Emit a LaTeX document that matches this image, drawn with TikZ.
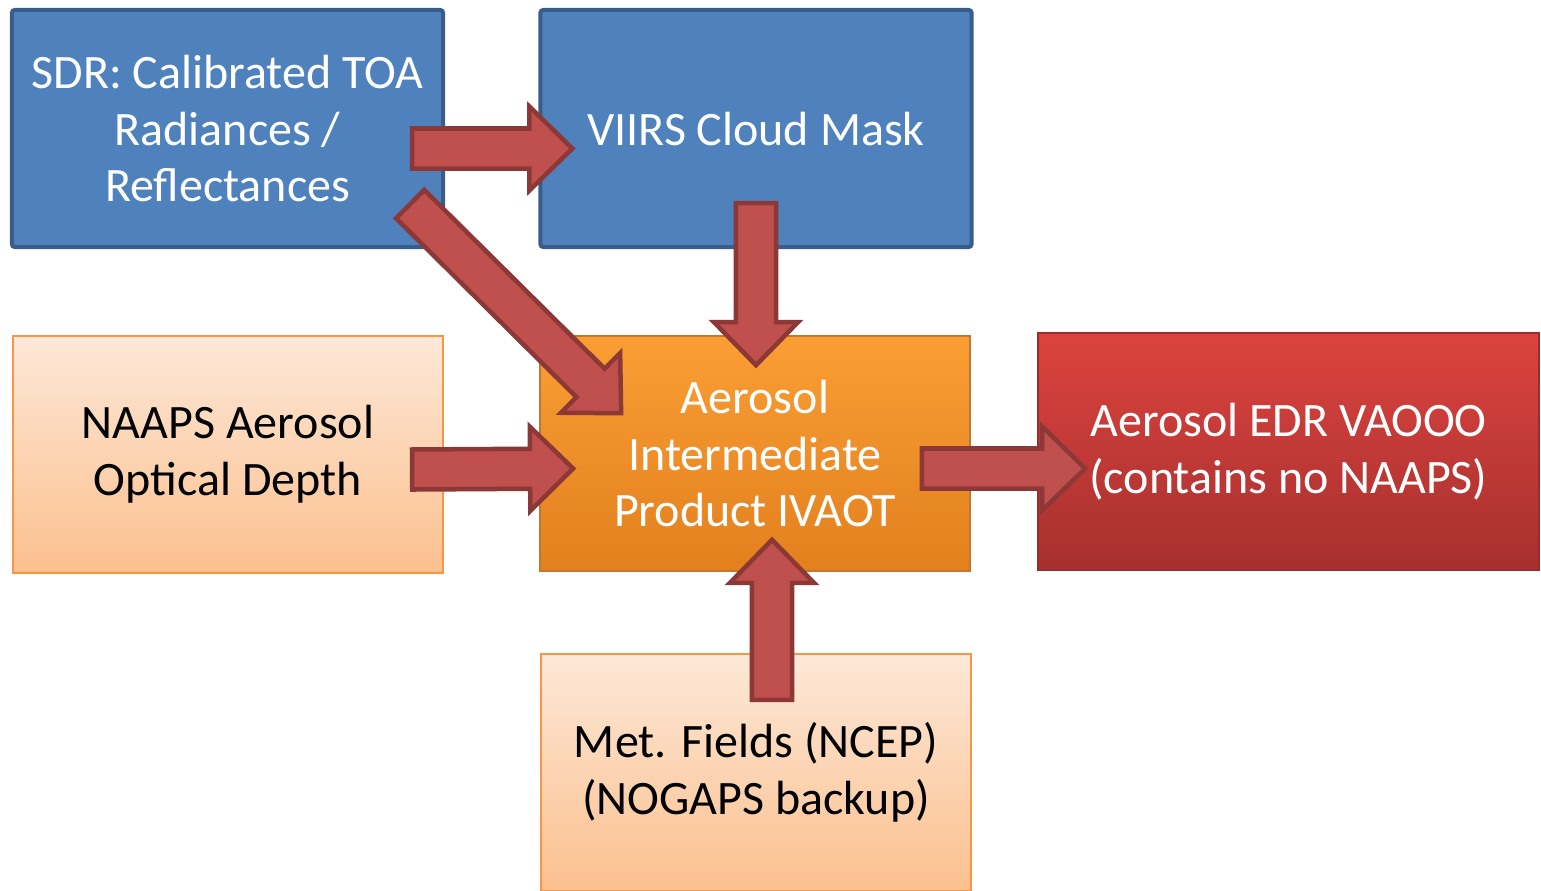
\documentclass[tikz,border=0pt]{standalone}
\usepackage{fontspec}
\setmainfont{Carlito}
\usetikzlibrary{calc}

\definecolor{sdrblue}{HTML}{4F81BD}
\definecolor{blueline}{HTML}{385D8A}
\definecolor{peachtop}{HTML}{FDE8D8}
\definecolor{peachbot}{HTML}{FBC08E}
\definecolor{peachline}{HTML}{F79646}
\definecolor{ivaottop}{HTML}{FA9E34}
\definecolor{ivaotbot}{HTML}{E2801E}
\definecolor{ivaotline}{HTML}{C0782E}
\definecolor{edrtop}{HTML}{DC433F}
\definecolor{edrbot}{HTML}{A6302E}
\definecolor{edrline}{HTML}{9A2D2B}
\definecolor{arrowfill}{HTML}{C0504D}
\definecolor{arrowline}{HTML}{8C3836}

\begin{document}
\begin{tikzpicture}[
    x=0.01cm, y=-0.01cm,
    font=\fontsize{13.65}{16.2}\selectfont,
    bluebox/.style={rectangle,draw=blueline,fill=sdrblue,line width=0.04cm,rounded corners=0.03cm,
        text=white,align=center,minimum width=4.31cm,minimum height=2.37cm},
    inputbox/.style={rectangle,draw=peachline,line width=0.02cm,top color=peachtop,bottom color=peachbot,
        align=center,minimum width=4.3cm,minimum height=2.37cm},
    ivaotbox/.style={rectangle,draw=ivaotline,line width=0.015cm,top color=ivaottop,bottom color=ivaotbot,
        text=white,align=center,minimum width=4.3cm,minimum height=2.35cm},
    edrbox/.style={rectangle,draw=edrline,line width=0.015cm,top color=edrtop,bottom color=edrbot,
        text=white,align=center,minimum width=5.01cm,minimum height=2.37cm},
    fatarrow/.style={draw=arrowline,fill=arrowfill,line width=0.045cm,line join=miter,
        to path={let \p1=($(\tikztotarget)!0.43cm!(\tikztostart)$) in
            ($(\tikztostart)!0.2cm!90:(\tikztotarget)$)
            -- ($(\p1)!0.2cm!-90:(\tikztostart)$)
            -- ($(\p1)!0.42cm!-90:(\tikztostart)$)
            -- (\tikztotarget)
            -- ($(\p1)!0.42cm!90:(\tikztostart)$)
            -- ($(\p1)!0.2cm!90:(\tikztostart)$)
            -- ($(\tikztostart)!0.2cm!-90:(\tikztotarget)$) -- cycle}}
]
\useasboundingbox (0,0) rectangle (1541,890);
\clip (0,0) rectangle (1541,890);

% === Sensor data ===
\node[bluebox] (SDR) at (227.5,128.5) {SDR: Calibrated TOA\\Radiances /\\Reflectances};
\node[bluebox] (VIIRS) at (756,128.5) {VIIRS Cloud Mask};

% === Ancillary inputs ===
\node[inputbox] (NAAPS) at (228,454.5) {NAAPS Aerosol\\Optical Depth};
\node[inputbox] (MET) at (756,772.5) {Met. Fields (NCEP)\\(NOGAPS backup)};

% === Products ===
\node[ivaotbox] (IVAOT) at (755,453.5) {Aerosol\\Intermediate\\Product IVAOT};
\node[edrbox] (EDR) at (1288.5,451.5) {Aerosol EDR VAOOO\\(contains no NAAPS)};

% === Flow arrows ===
\draw[fatarrow] ([shift={(-33,20)}]SDR.east) to ([shift={(34,20)}]VIIRS.west);
\draw[fatarrow] ([shift={(-35,-45)}]SDR.south east) to ([shift={(82,78)}]IVAOT.north west);
\draw[fatarrow] ([shift={(0,-46)}]VIIRS.south) to ([shift={(1,30)}]IVAOT.north);
\draw[fatarrow] ([shift={(-32,15)}]NAAPS.east) to ([shift={(34,15)}]IVAOT.west);
\draw[fatarrow] ([shift={(16,47)}]MET.north) to ([shift={(17,-32)}]IVAOT.south);
\draw[fatarrow] ([shift={(-49,15)}]IVAOT.east) to ([shift={(48,17)}]EDR.west);

\end{tikzpicture}
\end{document}
